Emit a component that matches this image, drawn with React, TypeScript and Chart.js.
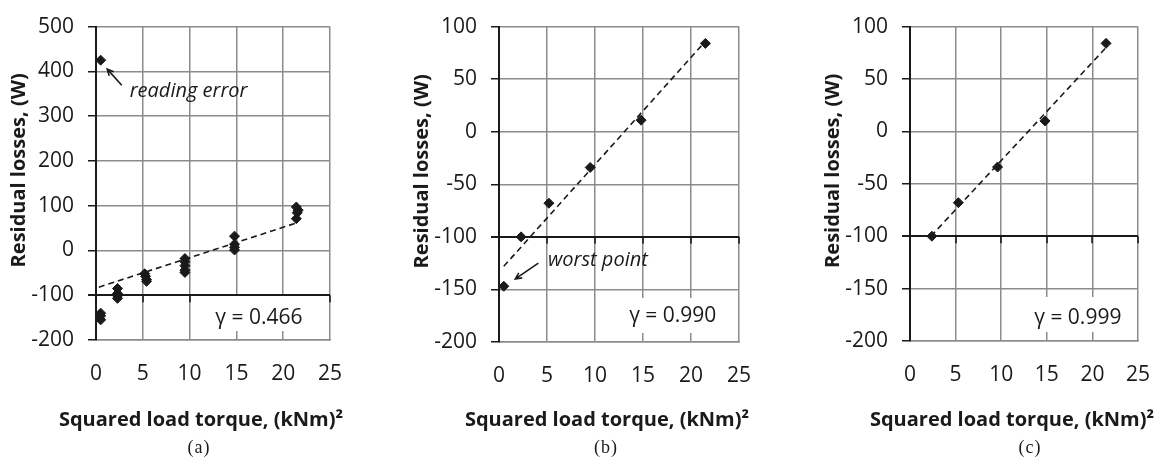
import React, { useEffect, useRef } from "react";
import { Chart, registerables } from "chart.js";

Chart.register(...registerables);

// ---------- data ----------
const xTickStep = 5;
const xMin = 0;
const xMax = 25;

// Panel (a)
const aX = [0.5, 0.5, 0.5, 0.5, 2.3, 2.3, 2.3, 2.3, 5.2, 5.3, 5.4, 5.4, 9.5, 9.5, 9.5, 9.5, 9.5, 14.8, 14.8, 14.8, 14.8, 21.4, 21.6, 21.5, 21.4];
const aY = [425, -140, -146, -155, -85, -96, -101, -107, -52, -58, -65, -69, -18, -25, -34, -44, -49, 32, 14, 7, 1, 97, 90, 84, 71];
const aTrendX = [0.3, 21.5];
const aTrendY = [-82, 62];
const aYRange = [-200, 500, 100];

// Panel (b)
const bX = [0.5, 2.3, 5.2, 9.5, 14.8, 21.5];
const bY = [-147, -100, -68, -34, 11, 84];
const bTrendX = [0.5, 21.5];
const bTrendY = [-128, 86];
const bYRange = [-200, 100, 50];

// Panel (c)
const cX = [2.4, 5.3, 9.6, 14.8, 21.5];
const cY = [-100, -68, -34, 10, 84];
const cTrendX = [2.3, 21.5];
const cTrendY = [-100, 80];
const cYRange = [-200, 100, 50];

const gammaLabels = ["\u03b3 = 0.466", "\u03b3 = 0.990", "\u03b3 = 0.999"];
const gammaPos = [
  [17.4, -151],
  [18.1, -175],
  [18.4, -178],
];
const captions = ["(a)", "(b)", "(c)"];
const xTitle = "Squared load torque, (kNm)\u00b2";
const yTitle = "Residual losses, (W)";

type Note = { text: string; tx: number; ty: number; ax0: number; ay0: number; ax1: number; ay1: number };
const aNote: Note = { text: "reading error", tx: 3.6, ty: 355, ax0: 2.75, ay0: 369, ax1: 1.2, ay1: 405 };
const bNote: Note = { text: "worst point", tx: 5.1, ty: -122, ax0: 4.1, ay0: -125, ax1: 1.7, ay1: -140 };

// ---------- styling ----------
const INK = "#1a1a1a";
const GRID = "#8c8c8c";
const FONT = "'Open Sans', 'Noto Sans', sans-serif";
const H = 461;

type Panel = {
  left: number;
  width: number;
  plot: { l: number; r: number; t: number; b: number };
  xs: number[];
  ys: number[];
  tx: number[];
  ty: number[];
  yr: number[];
  gamma: string;
  gpos: number[];
  note?: Note;
  caption: string;
  capX: number;
};

const panels: Panel[] = [
  { left: 0, width: 380, plot: { l: 96, r: 330, t: 14, b: 340 }, xs: aX, ys: aY, tx: aTrendX, ty: aTrendY, yr: aYRange, gamma: gammaLabels[0], gpos: gammaPos[0], note: aNote, caption: captions[0], capX: 199 },
  { left: 380, width: 400, plot: { l: 119, r: 359, t: 15, b: 342 }, xs: bX, ys: bY, tx: bTrendX, ty: bTrendY, yr: bYRange, gamma: gammaLabels[1], gpos: gammaPos[1], note: bNote, caption: captions[1], capX: 606 },
  { left: 780, width: 391, plot: { l: 130, r: 371, t: 15, b: 341 }, xs: cX, ys: cY, tx: cTrendX, ty: cTrendY, yr: cYRange, gamma: gammaLabels[2], gpos: gammaPos[2], caption: captions[2], capX: 1030 },
];

function drawArrow(ctx: CanvasRenderingContext2D, x0: number, y0: number, x1: number, y1: number) {
  ctx.save();
  ctx.strokeStyle = INK;
  ctx.lineWidth = 1.6;
  ctx.beginPath();
  ctx.moveTo(x0, y0);
  ctx.lineTo(x1, y1);
  const ang = Math.atan2(y1 - y0, x1 - x0);
  const len = 7;
  ctx.moveTo(x1 - len * Math.cos(ang - 0.45), y1 - len * Math.sin(ang - 0.45));
  ctx.lineTo(x1, y1);
  ctx.lineTo(x1 - len * Math.cos(ang + 0.45), y1 - len * Math.sin(ang + 0.45));
  ctx.stroke();
  ctx.restore();
}

function PanelChart({ p }: { p: Panel }) {
  const ref = useRef<HTMLCanvasElement | null>(null);
  useEffect(() => {
    const canvas = ref.current;
    if (!canvas) return;
    const plugin = {
      id: "decor",
      beforeDatasetsDraw(chart: any) {
        const ctx = chart.ctx as CanvasRenderingContext2D;
        const xs = chart.scales.x;
        const ys = chart.scales.y;
        const area = chart.chartArea;
        // x tick marks at the -100 crossing line
        const yc = ys.getPixelForValue(-100);
        ctx.save();
        ctx.strokeStyle = INK;
        ctx.lineWidth = 1.6;
        for (let v = xMin; v <= xMax; v += xTickStep) {
          const px = Math.round(xs.getPixelForValue(v));
          ctx.beginPath();
          ctx.moveTo(px, yc);
          ctx.lineTo(px, yc + 7);
          ctx.stroke();
        }
        // white box behind gamma label
        const bx0 = xs.getPixelForValue(11);
        ctx.fillStyle = "#ffffff";
        ctx.fillRect(bx0, area.bottom - 44, area.right - 2 - bx0, 35);
        ctx.fillStyle = INK;
        ctx.font = `21px ${FONT}`;
        ctx.textAlign = "center";
        ctx.textBaseline = "middle";
        ctx.fillText(p.gamma, xs.getPixelForValue(p.gpos[0]), ys.getPixelForValue(p.gpos[1]));
        ctx.restore();
      },
      afterDraw(chart: any) {
        const ctx = chart.ctx as CanvasRenderingContext2D;
        const xs = chart.scales.x;
        const ys = chart.scales.y;
        const area = chart.chartArea;
        ctx.save();
        ctx.fillStyle = INK;
        if (p.note) {
          const n = p.note;
          ctx.font = `italic 20px ${FONT}`;
          ctx.textAlign = "left";
          ctx.textBaseline = "middle";
          ctx.fillText(n.text, xs.getPixelForValue(n.tx), ys.getPixelForValue(n.ty));
          drawArrow(ctx, xs.getPixelForValue(n.ax0), ys.getPixelForValue(n.ay0), xs.getPixelForValue(n.ax1), ys.getPixelForValue(n.ay1));
        }
        // axis titles
        ctx.fillStyle = INK;
        ctx.font = `bold 20px ${FONT}`;
        ctx.textAlign = "center";
        ctx.textBaseline = "middle";
        ctx.fillText(xTitle, (area.left + area.right) / 2 - 12, 420);
        ctx.save();
        ctx.translate(area.left - 77, (area.top + area.bottom) / 2 - 13);
        ctx.rotate(-Math.PI / 2);
        ctx.fillText(yTitle, 0, 0);
        ctx.restore();
        ctx.restore();
      },
    };

    const chart = new Chart(canvas, {
      type: "scatter",
      data: {
        datasets: [
          {
            data: p.xs.map((x, i) => ({ x, y: p.ys[i] })),
            pointStyle: "rectRot",
            pointRadius: 5,
            backgroundColor: INK,
            borderColor: INK,
            borderWidth: 1,
            showLine: false,
          },
          {
            data: p.tx.map((x, i) => ({ x, y: p.ty[i] })),
            showLine: true,
            pointRadius: 0,
            borderColor: INK,
            borderWidth: 1.6,
            borderDash: [6, 4],
            fill: false,
          },
        ],
      },
      options: {
        responsive: false,
        animation: false,
        devicePixelRatio: 1,
        events: [],
        layout: { padding: { top: p.plot.t, right: p.width - p.plot.r, left: 0, bottom: 0 } },
        plugins: { legend: { display: false }, tooltip: { enabled: false } },
        scales: {
          x: {
            type: "linear",
            min: xMin,
            max: xMax,
            afterFit: (s: any) => {
              s.height = H - p.plot.b;
            },
            ticks: { stepSize: xTickStep, color: INK, font: { family: FONT, size: 21 }, padding: 21, maxRotation: 0 },
            grid: {
              color: (c: any) => (c.tick && c.tick.value === 0 ? INK : GRID),
              lineWidth: (c: any) => (c.tick && c.tick.value === 0 ? 2 : 1.5),
              drawTicks: false,
            },
            border: { display: true, color: GRID, width: 1.5 },
          },
          y: {
            type: "linear",
            min: p.yr[0],
            max: p.yr[1],
            afterFit: (s: any) => {
              s.width = p.plot.l;
            },
            ticks: { stepSize: p.yr[2], color: INK, font: { family: FONT, size: 21 }, padding: 14 },
            grid: {
              color: (c: any) => (c.tick && c.tick.value === -100 ? INK : GRID),
              lineWidth: (c: any) => (c.tick && c.tick.value === -100 ? 2 : 1.5),
              tickColor: INK,
              tickLength: 8,
              drawTicks: true,
            },
            border: { display: true, color: INK, width: 2 },
          },
        },
      },
      plugins: [plugin],
    } as any);
    return () => chart.destroy();
  }, [p]);

  return (
    <canvas
      ref={ref}
      width={p.width}
      height={H}
      style={{ position: "absolute", left: p.left, top: 0, width: p.width, height: H }}
    />
  );
}

export default function App() {
  return (
    <div style={{ position: "fixed", left: 0, top: 0, width: 1171, height: H, background: "#ffffff", overflow: "hidden" }}>
      {panels.map((p, i) => (
        <PanelChart key={i} p={p} />
      ))}
      {panels.map((p, i) => (
        <div
          key={"c" + i}
          style={{
            position: "absolute",
            left: p.capX - 30,
            width: 60,
            top: 436,
            textAlign: "center",
            fontFamily: "'Liberation Serif', 'Times New Roman', serif",
            fontSize: 18,
            letterSpacing: 1,
            lineHeight: "22px",
            color: INK,
          }}
        >
          {p.caption}
        </div>
      ))}
    </div>
  );
}
